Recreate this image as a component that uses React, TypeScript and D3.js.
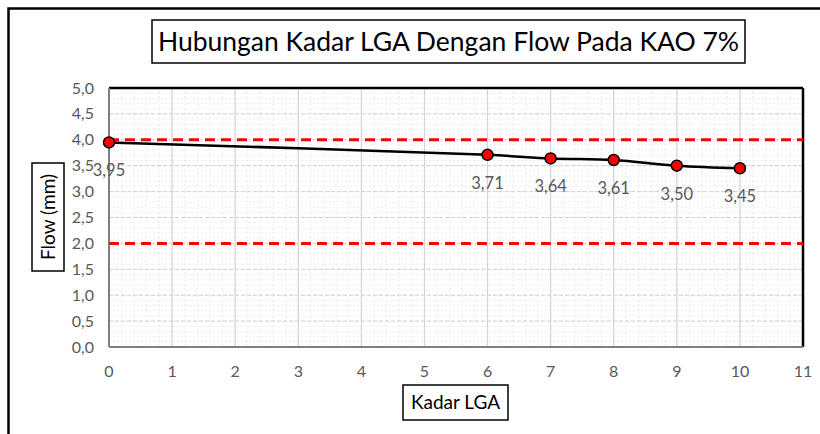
import React from "react";
import * as d3 from "d3";

const kadarLGA = [0, 6, 7, 8, 9, 10];
const flowValues = [3.95, 3.71, 3.64, 3.61, 3.5, 3.45];
const flowLabels = ["3,95", "3,71", "3,64", "3,61", "3,50", "3,45"];
const xTicks = [0, 1, 2, 3, 4, 5, 6, 7, 8, 9, 10, 11];
const yTicks = [0, 0.5, 1, 1.5, 2, 2.5, 3, 3.5, 4, 4.5, 5];
const limitLines = [4, 2];
const titleText = "Hubungan Kadar LGA Dengan Flow Pada KAO 7%";
const xTitle = "Kadar LGA";
const yTitle = "Flow (mm)";

const W = 820;
const H = 434;
const FONT = "Lato, 'Open Sans', sans-serif";

export default function App() {
  const x = d3.scaleLinear().domain([0, 11]).range([109, 803]);
  const y = d3.scaleLinear().domain([0, 5]).range([347, 88]);
  const minorX = d3.range(0, 11.001, 0.2);
  const minorY = d3.range(0, 5.001, 0.1);
  const line = d3
    .line<number>()
    .x((_, i) => x(kadarLGA[i]))
    .y((d) => y(d))
    .curve(d3.curveCatmullRom.alpha(0.5));
  const fmt = (v: number) => d3.format(".1f")(v).replace(".", ",");

  return (
    <svg
      width={W}
      height={H}
      style={{ position: "absolute", left: 0, top: 0, background: "#fff" }}
      fontFamily={FONT}
    >
      <rect x={8.5} y={8.5} width={900} height={900} fill="#fff" stroke="#000" strokeWidth={2.5} />
      {minorX.map((v, i) => (
        <line key={"mx" + i} x1={x(v)} x2={x(v)} y1={y(5)} y2={y(0)} stroke="#ececec" strokeWidth={1} strokeDasharray="2,2" />
      ))}
      {minorY.map((v, i) => (
        <line key={"my" + i} x1={x(0)} x2={x(11)} y1={y(v)} y2={y(v)} stroke="#ececec" strokeWidth={1} strokeDasharray="2,2" />
      ))}
      {yTicks.map((v) => (
        <line key={"gy" + v} x1={x(0)} x2={x(11)} y1={y(v)} y2={y(v)} stroke="#d0d0d0" strokeWidth={1} strokeDasharray="4,2" />
      ))}
      {xTicks.map((v) => (
        <line key={"gx" + v} x1={x(v)} x2={x(v)} y1={y(5)} y2={y(0)} stroke="#d4d4d4" strokeWidth={1.2} />
      ))}
      <line x1={x(0)} x2={x(11)} y1={y(5)} y2={y(5)} stroke="#000" strokeWidth={2.5} />
      <line x1={x(11)} x2={x(11)} y1={y(5)} y2={y(0)} stroke="#000" strokeWidth={2.5} />
      <line x1={x(0)} x2={x(0)} y1={y(5)} y2={y(0)} stroke="#808080" strokeWidth={2} />
      <line x1={x(0)} x2={x(11)} y1={y(0)} y2={y(0)} stroke="#808080" strokeWidth={2} />
      {limitLines.map((v) => (
        <line key={"l" + v} x1={x(0)} x2={x(11)} y1={y(v)} y2={y(v)} stroke="#ff0000" strokeWidth={3} strokeDasharray="10,6" />
      ))}
      <path d={line(flowValues) || ""} fill="none" stroke="#000" strokeWidth={2.5} />
      {flowValues.map((v, i) => (
        <circle key={"p" + i} cx={x(kadarLGA[i])} cy={y(v)} r={5.5} fill="#ff0000" stroke="#000" strokeWidth={1.5} />
      ))}
      {flowValues.map((v, i) => (
        <text key={"dl" + i} x={x(kadarLGA[i])} y={y(v) + 34} textAnchor="middle" fontSize={16.5} fill="#595959">
          {flowLabels[i]}
        </text>
      ))}
      {yTicks.map((v) => (
        <text key={"ty" + v} x={94} y={y(v) + 5.5} textAnchor="end" fontSize={16} fill="#595959">
          {fmt(v)}
        </text>
      ))}
      {xTicks.map((v) => (
        <text key={"tx" + v} x={x(v)} y={377} textAnchor="middle" fontSize={16} fill="#595959">
          {v}
        </text>
      ))}
      <rect x={152} y={20} width={593} height={43} fill="#fff" stroke="#000" strokeWidth={1.5} />
      <text x={448.5} y={51} textAnchor="middle" fontSize={26.5} fill="#000">
        {titleText}
      </text>
      <rect x={403} y={385} width={105} height={35} fill="#fff" stroke="#000" strokeWidth={1.5} />
      <text x={455.5} y={409} textAnchor="middle" fontSize={19} fill="#000">
        {xTitle}
      </text>
      <rect x={32} y={163} width={32} height={108} fill="#fff" stroke="#000" strokeWidth={1.5} />
      <text transform={`translate(55,217) rotate(-90)`} textAnchor="middle" fontSize={19} fill="#000">
        {yTitle}
      </text>
    </svg>
  );
}
